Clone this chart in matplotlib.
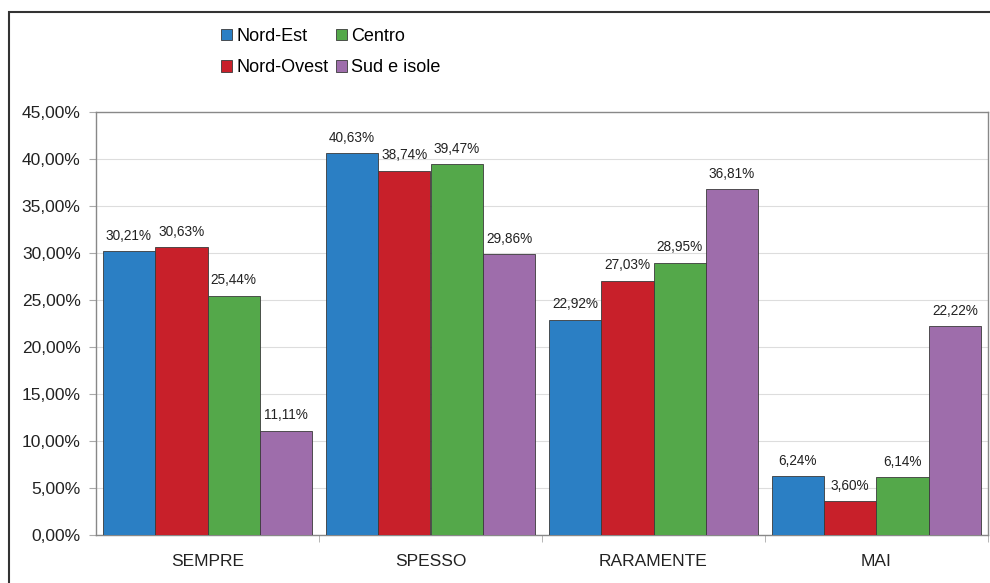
import matplotlib
matplotlib.use("Agg")
import matplotlib.pyplot as plt
from matplotlib.patches import Rectangle
import numpy as np

categories = ["SEMPRE", "SPESSO", "RARAMENTE", "MAI"]
series_names = ["Nord-Est", "Nord-Ovest", "Centro", "Sud e isole"]
nord_est = [30.21, 40.63, 22.92, 6.24]
nord_ovest = [30.63, 38.74, 27.03, 3.60]
centro = [25.44, 39.47, 28.95, 6.14]
sud_isole = [11.11, 29.86, 36.81, 22.22]
colors = ["#2b7fc4", "#c8202a", "#54a84a", "#9e6dab"]

plt.rcParams['font.family'] = ['Liberation Sans', 'DejaVu Sans']

fig = plt.figure(figsize=(9.9, 5.83), dpi=100)
ax = fig.add_axes([96/990, 1-535/583, (988-96)/990, (535-112)/583])

data = [nord_est, nord_ovest, centro, sud_isole]
x = np.arange(len(categories))
bw = 0.235
handles = []
for i, (vals, c, name) in enumerate(zip(data, colors, series_names)):
    pos = x - 1.5*bw + i*bw
    b = ax.bar(pos, vals, width=bw, color=c, edgecolor="#3a3a3a", linewidth=0.6, label=name, zorder=3)
    handles.append(b)
    for p, v in zip(pos, vals):
        ax.text(p, v + 0.9, f"{v:.2f}%".replace(".", ","), ha="center", va="bottom",
                fontsize=9.8, color="#222222", zorder=4)

ax.set_xlim(-0.5, 3.5)
ax.set_ylim(0, 45)
ax.set_yticks(np.arange(0, 45.1, 5))
ax.set_yticklabels([f"{t:.2f}%".replace(".", ",") for t in np.arange(0, 45.1, 5)], fontsize=12.5, color="#222222")
ax.set_xticks(x)
ax.set_xticklabels(categories, fontsize=12.5, color="#222222")
ax.tick_params(axis="x", length=0, pad=14)
ax.set_xticks([0.5, 1.5, 2.5, 3.5], minor=True)
ax.tick_params(axis="x", which="minor", length=5, color="#aaaaaa", direction="out")
ax.tick_params(axis="y", length=5, color="#aaaaaa", direction="out", pad=6)
ax.grid(axis="y", color="#dddddd", linewidth=0.8, zorder=0)
for s in ax.spines.values():
    s.set_color("#888888")
    s.set_linewidth(1.0)

leg = fig.legend(handles=handles, labels=series_names, ncol=2, loc="upper left",
                 bbox_to_anchor=(212/990, 1-19/583), frameon=False, fontsize=13,
                 handlelength=0.6, handleheight=0.6, handletextpad=0.25,
                 columnspacing=0.4, labelspacing=0.8, borderpad=0)

fig.patches.append(Rectangle((9/990, -0.1), 1.2, 1-12/583+0.1, transform=fig.transFigure,
                             fill=False, edgecolor="#333333", linewidth=1.5))

fig.savefig("out.png", dpi=100)
